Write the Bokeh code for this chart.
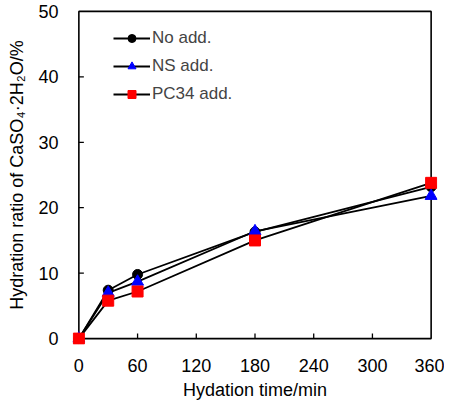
from bokeh.plotting import figure
from bokeh.models import Range1d, FixedTicker, Legend, LegendItem
from bokeh.embed import file_html
from bokeh.resources import INLINE

time_min = [0, 30, 60, 180, 360]
no_add = [0, 7.4, 9.8, 16.3, 23.2]
ns_add = [0, 7.0, 8.7, 16.4, 21.8]
pc34_add = [0, 5.8, 7.2, 15.0, 23.8]
x_ticks = [0, 60, 120, 180, 240, 300, 360]
y_ticks = [0, 10, 20, 30, 40, 50]

FONT = "Liberation Sans"

# padding (data units) so edge markers are not clipped by the frame
XPAD = 6.5
YPAD = 0.9
X_PX_PER_UNIT = 352 / 360
Y_PX_PER_UNIT = 328 / 50

x0, x1 = x_ticks[0], x_ticks[-1]
y0, y1 = y_ticks[0], y_ticks[-1]

p = figure(width=444, height=402, output_backend="svg", toolbar_location=None,
           x_range=Range1d(x0 - XPAD, x1 + XPAD), y_range=Range1d(y0 - YPAD, y1 + YPAD),
           min_border_left=72, min_border_right=7, min_border_top=5, min_border_bottom=50)
p.grid.visible = False
p.outline_line_color = None
p.background_fill_color = "white"
p.border_fill_color = "white"

for ax in (p.xaxis[0], p.yaxis[0]):
    ax.axis_line_color = None
    ax.major_tick_line_color = None
    ax.minor_tick_line_color = None
    ax.major_label_text_font = FONT
    ax.major_label_text_font_size = "18px"
    ax.major_label_text_color = "black"
    ax.axis_label_text_font = FONT
    ax.axis_label_text_font_size = "18px"
    ax.axis_label_text_font_style = "normal"
    ax.axis_label_text_color = "black"

p.xaxis.ticker = FixedTicker(ticks=x_ticks)
p.yaxis.ticker = FixedTicker(ticks=y_ticks)
p.xaxis.axis_label = "Hydation time/min"
p.yaxis.axis_label = "Hydration ratio of CaSO₄·2H₂O/%"
p.xaxis.major_label_standoff = 8
p.xaxis.axis_label_standoff = 5
p.yaxis.major_label_standoff = 8
p.yaxis.axis_label_standoff = 8

# plot box at the data limits
p.quad(left=[x0], right=[x1], bottom=[y0], top=[y1], fill_color=None,
       line_color="black", line_width=1.6)
# inward ticks
xt = x_ticks[1:-1]
p.segment(x0=xt, y0=[y0] * len(xt), x1=xt, y1=[y0 + 5 / Y_PX_PER_UNIT] * len(xt),
          line_color="black", line_width=1.3)
yt = y_ticks[1:-1]
p.segment(x0=[x0] * len(yt), y0=yt, x1=[x0 + 5 / X_PX_PER_UNIT] * len(yt), y1=yt,
          line_color="black", line_width=1.3)

l1 = p.line(time_min, no_add, line_color="black", line_width=1.8)
l2 = p.line(time_min, ns_add, line_color="black", line_width=1.8)
l3 = p.line(time_min, pc34_add, line_color="black", line_width=1.8)
m1 = p.scatter(time_min, no_add, marker="circle", size=10, fill_color="black", line_color="black")
m2 = p.scatter(time_min, ns_add, marker="triangle", size=12, fill_color="blue", line_color="blue")
m3 = p.scatter(time_min, pc34_add, marker="square", size=11, fill_color="red", line_color="red")

legend = Legend(items=[
    LegendItem(label="No add.", renderers=[l1, m1]),
    LegendItem(label="NS add.", renderers=[l2, m2]),
    LegendItem(label="PC34 add.", renderers=[l3, m3]),
])
legend.border_line_color = None
legend.background_fill_alpha = 0
legend.label_text_font = FONT
legend.label_text_font_size = "17px"
legend.glyph_width = 37
legend.glyph_height = 20
legend.label_standoff = 2
legend.spacing = 8
legend.margin = 0
legend.padding = 0
legend.location = (41, 240)
p.add_layout(legend, "center")

open("out.html", "w").write(file_html(p, INLINE))
